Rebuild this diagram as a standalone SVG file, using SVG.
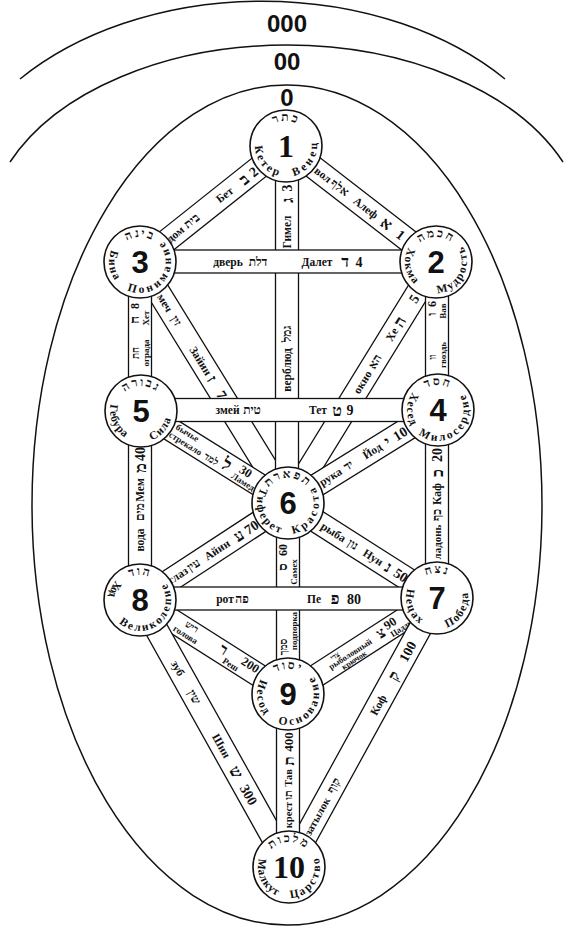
<svg xmlns="http://www.w3.org/2000/svg" width="571" height="928" viewBox="0 0 571 928">
<style>
.frame{fill:none;stroke:#111;stroke-width:1.5}
.band rect{fill:#fff;stroke:#111;stroke-width:1.3}
.band text{font-family:"Liberation Serif","DejaVu Serif",serif;fill:#111;text-anchor:middle;font-weight:bold}
.w{font-size:11.5px}
.h{font-size:12px}
.L{font-size:16px}
.n{font-size:14px}
.s{font-size:9px}
.x{font-size:8px}
.node circle{fill:#fff;stroke:#111;stroke-width:1.6}
.num{font-family:"Liberation Sans","DejaVu Sans",sans-serif;font-size:31px;font-weight:bold;text-anchor:middle;fill:#111}
.numS{font-family:"Liberation Serif","DejaVu Serif",serif;font-size:32px;font-weight:bold;text-anchor:middle;fill:#111}
.nm{font-family:"Liberation Serif","DejaVu Serif",serif;font-size:11.5px;font-weight:bold;fill:#111}
.heb{font-family:"Liberation Serif","DejaVu Serif",serif;font-size:12px;font-weight:bold;letter-spacing:2px;text-anchor:middle;fill:#111}
.lvl{font-family:"Liberation Sans","DejaVu Sans",sans-serif;font-size:24px;font-weight:bold;text-anchor:middle;fill:#111}
</style>
<defs>
<path id="top" d="M -25 0 A 25 25 0 0 1 25 0"/>
<path id="bot" d="M -23.75 -19.93 A 31 31 0 1 0 19.93 -23.75"/>
</defs>

<g id="frame">
<path class="frame" d="M 20 79 A 320 224 0 0 1 505 79"/>
<path class="frame" d="M 10 162 A 300 191 0 0 1 563 162"/>
<ellipse class="frame" cx="287" cy="505" rx="255" ry="420"/>
<text class="lvl" x="287" y="32">000</text>
<text class="lvl" x="287" y="70">00</text>
<text class="lvl" x="287" y="106">0</text>
</g>

<g id="connectors">
<!-- diagonals -->
<g class="band" id="p-aleph" transform="translate(286,146) rotate(37.7)"><rect x="0" y="-11.5" width="190" height="23"/>
<text class="w" x="47" y="4">вол</text><text class="h" x="68" y="4">אלף</text><text class="w" x="101" y="4">Алеф</text><text class="L" x="127" y="5.5">א</text><text class="n" x="145" y="5">1</text></g>

<g class="band" id="p-beth" transform="translate(140,262) rotate(-38.5)"><rect x="0" y="-11.5" width="187" height="23"/>
<text class="w" x="45" y="4">дом</text><text class="h" x="66" y="4">בית</text><text class="w" x="108" y="4">Бет</text><text class="L" x="133" y="5.5">ב</text><text class="n" x="145" y="5">2</text></g>

<g class="band" id="p-zain" transform="translate(140,262) rotate(58.4)"><rect x="0" y="-11.5" width="283" height="23"/>
<text class="w" x="48" y="4">меч</text><text class="h" x="69" y="4">זין</text><text class="w" x="116" y="4">Зайин</text><text class="L" x="137" y="5.5">ז</text><text class="n" x="156" y="5">7</text></g>

<g class="band" id="p-he" transform="translate(288,503) rotate(-58.4)"><rect x="0" y="-11.5" width="283" height="23"/>
<text class="w" x="142" y="4">окно</text><text class="h" x="166" y="4">הא</text><text class="w" x="198" y="4">Хе</text><text class="L" x="213" y="5.5">ה</text><text class="n" x="240" y="5">5</text></g>

<g class="band" id="p-lamed" transform="translate(141,411) rotate(32)"><rect x="0" y="-11.5" width="174" height="23"/>
<text class="s" x="51" y="-3">бычье</text><text class="s" x="55" y="7">стрекало</text><text class="s" x="85" y="7" style="font-size:10px">למד</text><text class="L" x="101" y="6" style="font-size:18px">ל</text><text class="n" x="121" y="0" style="font-size:12.5px">30</text><text class="s" x="124" y="9">Ламед</text></g>

<g class="band" id="p-yod" transform="translate(288,503) rotate(-31.8)"><rect x="0" y="-11.5" width="177" height="23"/>
<text class="w" x="50" y="4">рука</text><text class="h" x="71" y="4">יד</text><text class="w" x="99" y="4">Йод</text><text class="L" x="117" y="5.5">י</text><text class="n" x="132" y="5">10</text></g>

<g class="band" id="p-ayin" transform="translate(140,600) rotate(-33.2)"><rect x="0" y="-11.5" width="177" height="23"/>
<text class="w" x="45" y="4">глаз</text><text class="h" x="64" y="4">עין</text><text class="w" x="92" y="4">Айин</text><text class="L" x="118" y="5.5">ע</text><text class="n" x="133" y="5">70</text></g>

<g class="band" id="p-nun" transform="translate(288,503) rotate(32.5)"><rect x="0" y="-11.5" width="177" height="23"/>
<text class="w" x="54" y="4">рыба</text><text class="h" x="77" y="4">נון</text><text class="w" x="101" y="4">Нун</text><text class="L" x="119" y="5.5">נ</text><text class="n" x="134" y="5">50</text></g>

<g class="band" id="p-resh" transform="translate(140,600) rotate(32.4)"><rect x="0" y="-11.5" width="176" height="23"/>
<text class="s" x="58" y="-2" style="font-size:9.5px">ריש</text><text class="s" x="57" y="8">голова</text><text class="L" x="97" y="2" style="font-size:15px">ר</text><text class="n" x="128" y="0" style="font-size:12.5px">200</text><text class="s" x="111" y="9">Реш</text></g>

<g class="band" id="p-tzaddi" transform="translate(288,694) rotate(-32.8)"><rect x="0" y="-11.5" width="178" height="23"/>
<text class="x" x="60" y="-4" style="font-size:7.5px">צדי</text><text class="x" x="74" y="3" style="font-size:8.5px">рыболовный</text><text class="x" x="74" y="10">крючок</text><text class="L" x="111" y="4" style="font-size:15px">צ</text><text class="n" x="124" y="0" style="font-size:12.5px">90</text><text class="s" x="131" y="9" style="font-size:8.5px">Цадди</text></g>

<g class="band" id="p-qoph" transform="translate(289,867) rotate(-61.2)"><rect x="0" y="-11.5" width="307" height="23"/>
<text class="w" x="58" y="4" style="font-size:11px">затылок</text><text class="h" x="93" y="4">קוף</text><text class="w" x="185" y="4">Коф</text><text class="L" x="218" y="5.5">ק</text><text class="n" x="246" y="5">100</text></g>

<g class="band" id="p-shin" transform="translate(140,600) rotate(60.8)"><rect x="0" y="-11.5" width="306" height="23"/>
<text class="w" x="78" y="4">зуб</text><text class="h" x="111" y="4">שין</text><text class="w" x="167" y="4">Шин</text><text class="L" x="197" y="5.5">ש</text><text class="n" x="223" y="5">300</text></g>

<!-- verticals -->
<g class="band" id="p-gimel" transform="translate(287,503) rotate(-90)"><rect x="0" y="-11.5" width="357" height="23"/>
<text class="w" x="133" y="4">верблюд</text><text class="h" x="169" y="4">גמל</text><text class="w" x="271" y="4">Гимел</text><text class="L" x="303" y="5.5">ג</text><text class="n" x="315" y="5">3</text></g>

<g class="band" id="p-vav" transform="translate(437,410) rotate(-90)"><rect x="0" y="-11.5" width="148" height="23"/>
<text class="s" x="53" y="-1" style="font-size:10px">וו</text><text class="L" x="96" y="-1" style="font-size:13px">ו</text><text class="n" x="106" y="-1" style="font-size:12px">6</text>
<text class="s" x="55" y="9">гвоздь</text><text class="s" x="99" y="9">Вав</text></g>

<g class="band" id="p-cheth" transform="translate(140,411) rotate(-90)"><rect x="0" y="-11.5" width="149" height="23"/>
<text class="s" x="58" y="-1" style="font-size:10px">חת</text><text class="L" x="91" y="-1" style="font-size:13px">ח</text><text class="n" x="105" y="-1" style="font-size:12px">8</text>
<text class="s" x="58" y="9">ограда</text><text class="s" x="93" y="9">Хет</text></g>

<g class="band" id="p-mem" transform="translate(140,600) rotate(-90)"><rect x="0" y="-11.5" width="189" height="23"/>
<text class="w" x="60" y="4">вода</text><text class="h" x="88" y="4">מים</text><text class="w" x="110" y="4">Мем</text><text class="L" x="132" y="5.5">מ</text><text class="n" x="146" y="5">40</text></g>

<g class="band" id="p-kaph" transform="translate(437,598) rotate(-90)"><rect x="0" y="-11.5" width="188" height="23"/>
<text class="w" x="56" y="4" style="font-size:11px">ладонь</text><text class="h" x="83" y="4">כף</text><text class="w" x="104" y="4">Каф</text><text class="L" x="125" y="5.5">כ</text><text class="n" x="143" y="5">20</text></g>

<g class="band" id="p-samekh" transform="translate(288,694) rotate(-90)"><rect x="0" y="-11.5" width="191" height="23"/>
<text class="s" x="47" y="-1" style="font-size:10px">סמך</text><text class="L" x="127" y="-1" style="font-size:13px">ס</text><text class="n" x="144" y="-1" style="font-size:12px">60</text>
<text class="s" x="63" y="9">подпорка</text><text class="s" x="122" y="9">Самех</text></g>

<g class="band" id="p-tav" transform="translate(288,867) rotate(-90)"><rect x="0" y="-11.5" width="173" height="23"/>
<text class="w" x="52" y="4" style="font-size:10.5px">крест</text><text class="h" x="72" y="4" style="font-size:11px">תו</text><text class="w" x="89" y="4" style="font-size:10.5px">Тав</text><text class="L" x="106" y="5.5" style="font-size:15px">ת</text><text class="n" x="125" y="5" style="font-size:13px">400</text></g>

<!-- horizontals -->
<g class="band" id="p-daleth" transform="translate(140,261.5)"><rect x="0" y="-11.5" width="296" height="23"/>
<text class="w" x="88" y="4">дверь</text><text class="h" x="118" y="4">דלת</text><text class="w" x="177" y="4">Далет</text><text class="L" x="205" y="5.5">ד</text><text class="n" x="219" y="5">4</text></g>

<g class="band" id="p-teth" transform="translate(141,410)"><rect x="0" y="-11.5" width="297" height="23"/>
<text class="w" x="86.5" y="4">змей</text><text class="h" x="111" y="4">טית</text><text class="w" x="177" y="4">Тет</text><text class="L" x="196" y="5.5">ט</text><text class="n" x="209" y="5">9</text></g>

<g class="band" id="p-peh" transform="translate(140,598.5)"><rect x="0" y="-11.5" width="297" height="23"/>
<text class="w" x="85" y="4">рот</text><text class="h" x="102" y="4">פה</text><text class="w" x="174" y="4">Пе</text><text class="L" x="195" y="5.5">פ</text><text class="n" x="214" y="5">80</text></g>
</g>

<g id="node1" class="node" transform="translate(286,146)"><circle r="36"/><text class="numS" y="11">1</text>
<text class="heb"><textPath href="#top" startOffset="50%">כתר</textPath></text>
<text class="nm"><textPath href="#bot" startOffset="21.6" textLength="40.6" lengthAdjust="spacing">Кетер</textPath></text>
<text class="nm"><textPath href="#bot" startOffset="77.9" textLength="43.8" lengthAdjust="spacing">Венец</textPath></text></g>

<g id="node2" class="node" transform="translate(436,262)"><circle r="36"/><text class="num" y="11">2</text>
<text class="heb"><textPath href="#top" startOffset="50%">חכמה</textPath></text>
<text class="nm"><textPath href="#bot" startOffset="6.5" textLength="39.5" lengthAdjust="spacing">Хокма</textPath></text>
<text class="nm"><textPath href="#bot" startOffset="71.4" textLength="63.3" lengthAdjust="spacing">Мудрость</textPath></text></g>

<g id="node3" class="node" transform="translate(140,262)"><circle r="36"/><text class="num" y="11">3</text>
<text class="heb"><textPath href="#top" startOffset="50%">בינה</textPath></text>
<text class="nm"><textPath href="#bot" startOffset="9.2" textLength="31.9" lengthAdjust="spacing">Бина</textPath></text>
<text class="nm"><textPath href="#bot" startOffset="56.8" textLength="84" lengthAdjust="spacing">Понимание</textPath></text></g>

<g id="node4" class="node" transform="translate(438,410)"><circle r="36"/><text class="num" y="11">4</text>
<text class="heb"><textPath href="#top" startOffset="50%">חסד</textPath></text>
<text class="nm"><textPath href="#bot" startOffset="2.7" textLength="35.2" lengthAdjust="spacing">Хесед</textPath></text>
<text class="nm"><textPath href="#bot" startOffset="49.2" textLength="86" lengthAdjust="spacing">Милосердие</textPath></text></g>

<g id="node5" class="node" transform="translate(141,411)"><circle r="36"/><text class="num" y="11">5</text>
<text class="heb"><textPath href="#top" startOffset="50%">גבורה</textPath></text>
<text class="nm"><textPath href="#bot" startOffset="14.6" textLength="38.4" lengthAdjust="spacing">Гебура</textPath></text>
<text class="nm"><textPath href="#bot" startOffset="80.6" textLength="30" lengthAdjust="spacing">Сила</textPath></text></g>

<g id="node6" class="node" transform="translate(288,503)"><circle r="36"/><text class="num" y="11">6</text>
<text class="heb"><textPath href="#top" startOffset="50%">תפארת</textPath></text>
<text class="nm"><textPath href="#bot" startOffset="5.4" textLength="56.8" lengthAdjust="spacing">Тиферет</textPath></text>
<text class="nm"><textPath href="#bot" startOffset="74.7" textLength="60.6" lengthAdjust="spacing">Красота</textPath></text></g>

<g id="node7" class="node" transform="translate(437,598)"><circle r="36"/><text class="num" y="11">7</text>
<text class="heb"><textPath href="#top" startOffset="50%">נצח</textPath></text>
<text class="nm"><textPath href="#bot" startOffset="11.9" textLength="40.1" lengthAdjust="spacing">Нецах</textPath></text>
<text class="nm"><textPath href="#bot" startOffset="80.1" textLength="43.8" lengthAdjust="spacing">Победа</textPath></text></g>

<g id="node8" class="node" transform="translate(140,600)"><circle r="36"/><text class="num" y="11">8</text>
<text class="heb"><textPath href="#top" startOffset="50%">הוד</textPath></text>
<text class="nm"><textPath href="#bot" startOffset="0.5" textLength="17.4" lengthAdjust="spacing">Ход</textPath></text>
<text class="nm"><textPath href="#bot" startOffset="47.1" textLength="88.7" lengthAdjust="spacing">Великолепие</textPath></text></g>

<g id="node9" class="node" transform="translate(288,694)"><circle r="36"/><text class="num" y="11">9</text>
<text class="heb"><textPath href="#top" startOffset="50%">יסוד</textPath></text>
<text class="nm"><textPath href="#bot" startOffset="6" textLength="37.8" lengthAdjust="spacing">Иесод</textPath></text>
<text class="nm"><textPath href="#bot" startOffset="60" textLength="76.9" lengthAdjust="spacing">Основание</textPath></text></g>

<g id="node10" class="node" transform="translate(289,867)"><circle r="36"/><text class="numS" y="11">10</text>
<text class="heb"><textPath href="#top" startOffset="50%">מלכות</textPath></text>
<text class="nm"><textPath href="#bot" startOffset="13" textLength="44.8" lengthAdjust="spacing">Малкут</textPath></text>
<text class="nm"><textPath href="#bot" startOffset="71.4" textLength="56.3" lengthAdjust="spacing">Царство</textPath></text></g>
</svg>
